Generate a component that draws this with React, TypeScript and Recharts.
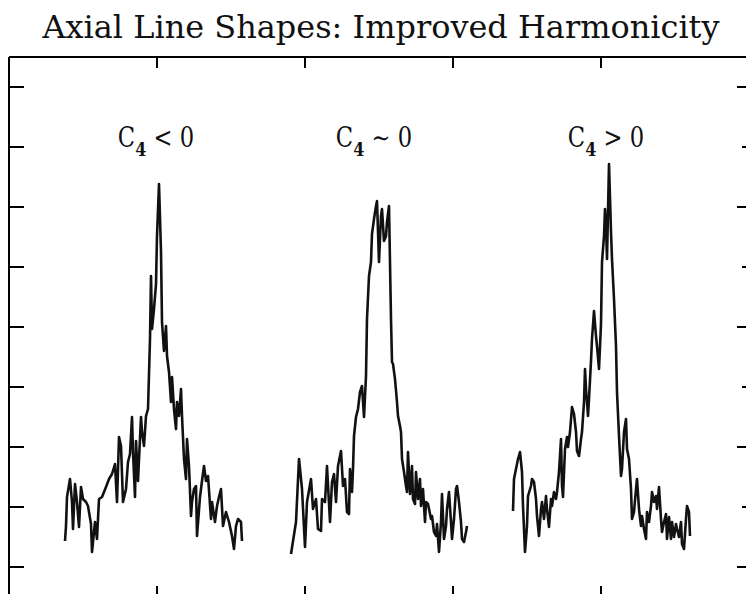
import { LineChart, Line, XAxis, YAxis, ReferenceDot } from 'recharts'

// readings: [channel, counts]
const negativeC4: [number, number][] = [
  [56, 56], [57, 71], [58, 100], [61, 118], [63, 95], [64, 68], [66, 113], [68, 95], [70, 70], [72, 110],
  [74, 98], [77, 95], [79, 91], [82, 73], [83, 45], [86, 75], [88, 58], [90, 98], [93, 100], [97, 110],
  [100, 118], [103, 123], [106, 133], [108, 95], [110, 160], [112, 151], [114, 95], [117, 108], [119, 135], [121, 143],
  [123, 180], [124, 145], [126, 100], [127, 156], [129, 116], [132, 180], [133, 165], [135, 151], [137, 181], [139, 188],
  [141, 258], [142, 321], [143, 268], [145, 288], [147, 313], [148, 361], [150, 413], [152, 345], [153, 275], [155, 246],
  [157, 271], [158, 241], [160, 225], [162, 195], [163, 220], [165, 188], [167, 168], [168, 195], [170, 181], [172, 208],
  [173, 181], [175, 138], [177, 118], [178, 158], [180, 131], [182, 81], [183, 95], [185, 108], [187, 111], [188, 61],
  [191, 100], [193, 116], [195, 131], [197, 116], [199, 121], [202, 78], [203, 95], [206, 75], [208, 91], [210, 100],
  [212, 108], [214, 71], [217, 85], [220, 75], [223, 61], [225, 48], [227, 71], [229, 78], [232, 75], [233, 56],
]

const nearZeroC4: [number, number][] = [
  [282, 43], [287, 75], [290, 138], [293, 108], [296, 50], [298, 95], [302, 118], [304, 88], [307, 98], [309, 68],
  [312, 66], [313, 98], [316, 95], [318, 131], [321, 75], [323, 115], [325, 123], [327, 95], [329, 131], [332, 146],
  [334, 111], [336, 118], [338, 85], [340, 83], [341, 128], [343, 105], [344, 128], [345, 161], [347, 180], [349, 188],
  [351, 205], [353, 211], [355, 180], [357, 221], [358, 278], [360, 321], [362, 335], [363, 363], [365, 378], [367, 391],
  [368, 396], [370, 335], [372, 381], [373, 388], [375, 356], [377, 361], [378, 375], [380, 391], [382, 278], [383, 235],
  [384, 233], [386, 218], [388, 195], [389, 181], [391, 171], [392, 165], [393, 138], [395, 125], [397, 111], [398, 105],
  [399, 145], [401, 103], [403, 131], [404, 98], [406, 93], [407, 125], [409, 98], [411, 118], [412, 91], [414, 108],
  [416, 75], [417, 95], [419, 93], [422, 78], [423, 81], [425, 65], [427, 61], [428, 73], [430, 45], [432, 75],
  [433, 103], [435, 58], [437, 71], [438, 88], [440, 105], [442, 75], [443, 58], [445, 78], [447, 108], [448, 111],
  [450, 95], [452, 75], [453, 58], [455, 55], [457, 65], [458, 71],
]

const positiveC4: [number, number][] = [
  [504, 86], [505, 118], [507, 128], [509, 138], [511, 145], [513, 125], [514, 91], [516, 45], [518, 71], [519, 101],
  [522, 111], [523, 118], [525, 115], [527, 98], [528, 81], [530, 61], [532, 88], [533, 95], [535, 78], [537, 101],
  [538, 88], [540, 70], [542, 98], [543, 91], [545, 105], [547, 98], [548, 105], [550, 125], [552, 158], [553, 111],
  [554, 100], [556, 148], [558, 160], [559, 150], [561, 165], [563, 190], [565, 183], [567, 165], [568, 146], [570, 141],
  [572, 158], [573, 165], [575, 195], [576, 228], [577, 208], [579, 181], [580, 198], [582, 236], [583, 258], [585, 286],
  [587, 261], [588, 251], [590, 228], [592, 273], [593, 335], [595, 361], [596, 388], [597, 371], [598, 338], [600, 433],
  [602, 365], [603, 338], [605, 298], [607, 251], [608, 205], [610, 161], [612, 121], [613, 128], [615, 165], [617, 178],
  [618, 148], [620, 138], [622, 108], [623, 78], [625, 85], [627, 108], [628, 118], [630, 88], [632, 71], [633, 81],
  [635, 68], [637, 58], [638, 85], [640, 75], [642, 91], [643, 105], [645, 95], [647, 101], [648, 88], [650, 110],
  [652, 78], [653, 65], [655, 75], [657, 83], [658, 58], [660, 80], [662, 58], [663, 75], [665, 60], [667, 73],
  [668, 68], [670, 60], [672, 75], [673, 53], [675, 48], [677, 78], [678, 91], [680, 85], [681, 61],
]

const caseOps = ['<', '\u223C', '>']
const channelTicks = [148, 296, 444, 592]
const countTicks = [30, 90, 150, 210, 270, 330, 390, 450, 510]
const rightLongTicks = [30, 150, 270, 390, 510]
const rightShortTicks = [90, 210, 330, 450]

const LABEL_LEVEL = 450
const ink = '#111'
const frame = { stroke: '#000', strokeWidth: 2 }
const blank = () => ''

const spectra = [negativeC4, nearZeroC4, positiveC4].map((rows, i) => {
  const points = rows.map(([channel, counts]) => ({ channel, counts }))
  const peak = points.reduce((a, b) => (b.counts > a.counts ? b : a))
  return { points, peak: peak.channel, op: caseOps[i] }
})

// plotter-style labels are narrow, so squeeze the serif horizontally
function caseLabel(op: string) {
  return (props: any) => {
    const { x, y } = props.viewBox
    return (
      <g transform={`translate(${x - 3},${y}) scale(0.84,1)`}>
        <text x={0} y={0} textAnchor="middle" fontFamily="DejaVu Serif" fontSize={27} fill={ink}>
          C
          <tspan fontSize={19} fontWeight="bold" dy={9}>4</tspan>
          <tspan dy={-9}>{` ${op} 0`}</tspan>
        </text>
      </g>
    )
  }
}

export default function App() {
  return (
    <div style={{ position: 'fixed', left: 0, top: 0, width: 746, height: 594, overflow: 'hidden', background: '#fff' }}>
      <svg width={746} height={56} style={{ position: 'absolute', left: 0, top: 0 }}>
        <text
          x={381}
          y={38}
          textAnchor="middle"
          textLength={677}
          lengthAdjust="spacingAndGlyphs"
          fontFamily="DejaVu Serif"
          fontSize={31}
          fill={ink}
        >
          Axial Line Shapes: Improved Harmonicity
        </text>
      </svg>
      <div style={{ position: 'absolute', left: 0, top: 0 }}>
        <LineChart width={762} height={612} margin={{ top: 57, right: 13, bottom: 15, left: 9 }}>
          <XAxis xAxisId="bottom" type="number" dataKey="channel" domain={[0, 740]} ticks={channelTicks}
            tickFormatter={blank} tickSize={11} mirror height={1} axisLine={frame} tickLine={frame} allowDataOverflow />
          <XAxis xAxisId="top" orientation="top" type="number" dataKey="channel" domain={[0, 740]} ticks={channelTicks}
            tickFormatter={blank} tickSize={11} mirror height={1} axisLine={frame} tickLine={frame} allowDataOverflow />
          <YAxis yAxisId="left" type="number" domain={[0, 540]} ticks={countTicks}
            tickFormatter={blank} tickSize={15} mirror width={1} axisLine={frame} tickLine={frame} allowDataOverflow />
          <YAxis yAxisId="rightLong" orientation="right" type="number" domain={[0, 540]} ticks={rightLongTicks}
            tickFormatter={blank} tickSize={12} mirror width={1} axisLine={frame} tickLine={frame} allowDataOverflow />
          <YAxis yAxisId="rightShort" orientation="right" type="number" domain={[0, 540]} ticks={rightShortTicks}
            tickFormatter={blank} tickSize={6} mirror width={1} axisLine={false} tickLine={frame} allowDataOverflow />
          {spectra.map((s, i) => (
            <Line
              key={i}
              data={s.points}
              xAxisId="bottom"
              yAxisId="left"
              dataKey="counts"
              type="linear"
              stroke={ink}
              strokeWidth={2.6}
              strokeLinejoin="round"
              dot={false}
              activeDot={false}
              isAnimationActive={false}
            />
          ))}
          {spectra.map((s, i) => (
            <ReferenceDot
              key={'lbl' + i}
              xAxisId="bottom"
              yAxisId="left"
              x={s.peak}
              y={LABEL_LEVEL}
              r={0}
              fill="none"
              stroke="none"
              ifOverflow="visible"
              label={caseLabel(s.op)}
            />
          ))}
        </LineChart>
      </div>
    </div>
  )
}
